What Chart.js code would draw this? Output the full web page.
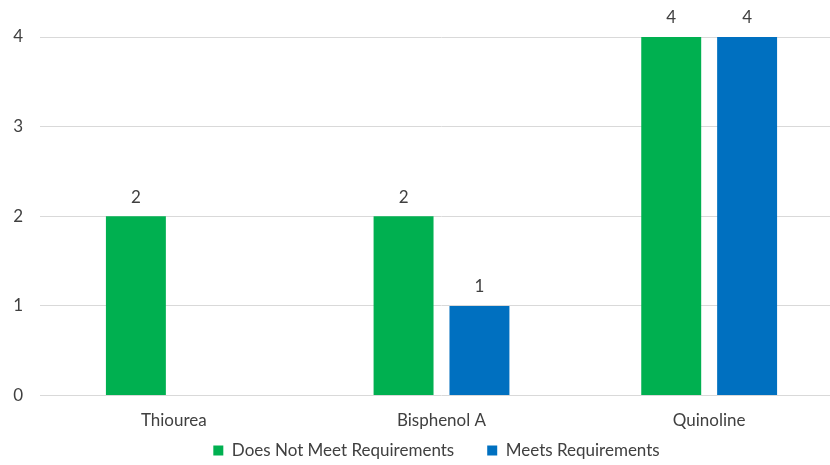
<!DOCTYPE html>
<html lang="en">
<head>
    <meta charset="UTF-8">
    <title>Requirements by Compound</title>
    <script src="https://cdn.jsdelivr.net/npm/chart.js"></script>
    <style>
        html, body { margin: 0; padding: 0; background: #fff; overflow: hidden; }
        canvas { display: block; }
    </style>
</head>
<body>
<canvas id="reqChart" width="845" height="506"></canvas>

<script>
    const categories = ['Thiourea', 'Bisphenol A', 'Quinoline'];
    const notMeet = [2, 2, 4];
    const meets = [null, 1, 4];
    const yTicks = [0, 1, 2, 3, 4];

    const FONT = 'Lato, "Open Sans", sans-serif';
    const TEXT = '#404040';
    const LEGEND_LIFT = 37;
    const LEGEND_SHIFT = 15;

    // writes the value above each bar
    const valueLabels = {
        id: 'valueLabels',
        afterDatasetsDraw(chart) {
            const ctx = chart.ctx;
            ctx.save();
            ctx.font = '17px ' + FONT;
            ctx.fillStyle = TEXT;
            ctx.textAlign = 'center';
            ctx.textBaseline = 'middle';
            chart.data.datasets.forEach((ds, i) => {
                chart.getDatasetMeta(i).data.forEach((bar, j) => {
                    if (ds.data[j] == null) return;
                    ctx.fillText(ds.data[j], bar.x, bar.y - 19);
                });
            });
            ctx.restore();
        }
    };

    // legend sits closer to the axis labels, centred under the plot
    const placeLegend = {
        id: 'placeLegend',
        afterLayout(chart) {
            const lg = chart.legend;
            lg.top -= LEGEND_LIFT;
            lg.bottom -= LEGEND_LIFT;
            lg.left += LEGEND_SHIFT;
            lg.right += LEGEND_SHIFT;
        }
    };

    new Chart(document.getElementById('reqChart').getContext('2d'), {
        type: 'bar',
        data: {
            labels: categories,
            datasets: [
                { label: 'Does Not Meet Requirements', data: notMeet, backgroundColor: '#00B050' },
                { label: 'Meets Requirements', data: meets, backgroundColor: '#0070C0' }
            ]
        },
        options: {
            responsive: false,
            animation: false,
            categoryPercentage: 0.567,
            barPercentage: 0.79,
            layout: { padding: { top: 37, right: 2, left: 0, bottom: 0 } },
            plugins: {
                tooltip: { enabled: false },
                legend: {
                    position: 'bottom',
                    labels: {
                        boxWidth: 10,
                        boxHeight: 10,
                        padding: 33,
                        color: TEXT,
                        font: { family: FONT, size: 17 }
                    }
                }
            },
            scales: {
                x: {
                    grid: { display: false, drawTicks: false },
                    border: { display: false },
                    ticks: { color: TEXT, font: { family: FONT, size: 17 }, padding: 15 }
                },
                y: {
                    min: 0,
                    max: 4,
                    afterBuildTicks(axis) { axis.ticks = yTicks.map(v => ({ value: v })); },
                    afterFit(axis) { axis.width = 40; },
                    grid: { color: '#d9d9d9', lineWidth: 1, drawTicks: false },
                    border: { display: false },
                    ticks: { color: TEXT, font: { family: FONT, size: 17 }, padding: 17 }
                }
            }
        },
        plugins: [valueLabels, placeLegend]
    });
</script>
</body>
</html>
